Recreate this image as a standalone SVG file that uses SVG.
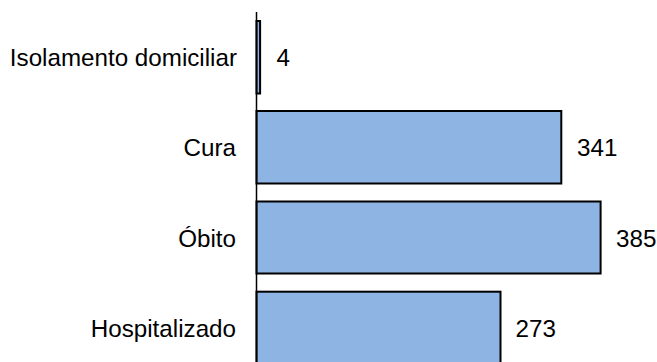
<svg xmlns="http://www.w3.org/2000/svg" width="657" height="362" viewBox="0 0 657 362">
<style>
.bar{fill:#8EB4E3;stroke:#000;stroke-width:2}
.cat{font-family:"Liberation Sans",Arial,sans-serif;font-size:24.2px;fill:#000;text-anchor:end}
.val{font-family:"Liberation Sans",Arial,sans-serif;font-size:24.2px;fill:#000}
.axis{stroke:#000;stroke-width:1.5;fill:none}
</style>
<rect width="657" height="362" fill="#fff"/>
<g id="bar-isolamento">
<rect class="bar" x="256.5" y="21" width="3.6" height="72.5"/>
<text class="cat" x="237" y="66">Isolamento domiciliar</text>
<text class="val" x="276.5" y="66">4</text>
</g>
<g id="bar-cura">
<rect class="bar" x="256.5" y="111" width="304.8" height="72.5"/>
<text class="cat" x="236" y="156">Cura</text>
<text class="val" x="577" y="156">341</text>
</g>
<g id="bar-obito">
<rect class="bar" x="256.5" y="201.5" width="344.1" height="72"/>
<text class="cat" x="236" y="246.5">Óbito</text>
<text class="val" x="616" y="246.5">385</text>
</g>
<g id="bar-hospitalizado">
<rect class="bar" x="256.5" y="291.7" width="244" height="72"/>
<text class="cat" x="236" y="337">Hospitalizado</text>
<text class="val" x="515.5" y="337">273</text>
</g>
<g id="connectors">
<line class="axis" x1="256.5" y1="12" x2="256.5" y2="362"/>
</g>
</svg>
